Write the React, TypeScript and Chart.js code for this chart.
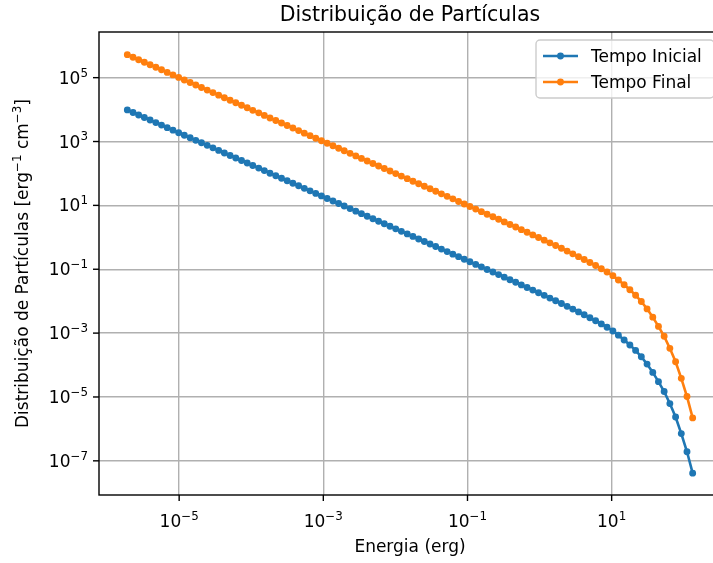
import React, { useEffect, useRef } from "react";
import { Chart, registerables } from "chart.js";

Chart.register(...registerables);

// Energy grid (erg)
const energies = [
  1.91e-6, 2.29e-6, 2.74e-6, 3.29e-6, 3.95e-6, 4.75e-6, 5.69e-6, 6.83e-6, 8.20e-6, 9.84e-6,
  1.18e-5, 1.42e-5, 1.70e-5, 2.04e-5, 2.45e-5, 2.94e-5, 3.53e-5, 4.24e-5, 5.09e-5, 6.10e-5,
  7.33e-5, 8.79e-5, 1.05e-4, 1.27e-4, 1.52e-4, 1.82e-4, 2.19e-4, 2.63e-4, 3.15e-4, 3.78e-4,
  4.54e-4, 5.45e-4, 6.54e-4, 7.85e-4, 9.42e-4, 1.13e-3, 1.36e-3, 1.63e-3, 1.95e-3, 2.35e-3,
  2.82e-3, 3.38e-3, 4.06e-3, 4.87e-3, 5.84e-3, 7.01e-3, 8.41e-3, 1.01e-2, 1.21e-2, 1.46e-2,
  1.75e-2, 2.10e-2, 2.52e-2, 3.02e-2, 3.62e-2, 4.35e-2, 5.22e-2, 6.26e-2, 7.52e-2, 9.02e-2,
  0.108, 0.130, 0.156, 0.187, 0.225, 0.270, 0.324, 0.388, 0.466, 0.559,
  0.671, 0.805, 0.967, 1.16, 1.39, 1.67, 2.01, 2.41, 2.89, 3.47,
  4.16, 4.99, 5.99, 7.19, 8.63, 10.4, 12.4, 14.9, 17.9, 21.5,
  25.8, 31.0, 37.2, 44.6, 53.5, 64.2, 77.1, 92.5, 111, 133,
];

// Particle distribution at the initial time [erg^-1 cm^-3]
const tempoInicial = [
  9.77e3, 8.14e3, 6.78e3, 5.65e3, 4.71e3, 3.92e3, 3.27e3, 2.72e3, 2.27e3, 1.89e3,
  1.58e3, 1.31e3, 1.09e3, 912, 760, 633, 527, 439, 366, 305,
  254, 212, 177, 147, 123, 102, 85.1, 70.9, 59.1, 49.2,
  41.0, 34.2, 28.5, 23.7, 19.8, 16.5, 13.7, 11.4, 9.52, 7.93,
  6.61, 5.51, 4.59, 3.82, 3.19, 2.66, 2.21, 1.84, 1.54, 1.28,
  1.07, 0.888, 0.741, 0.616, 0.514, 0.428, 0.357, 0.297, 0.248, 0.206,
  0.171, 0.142, 0.119, 0.0987, 0.0819, 0.0681, 0.0566, 0.0471, 0.0391, 0.0324,
  0.0268, 0.0222, 0.0184, 0.0152, 0.0125, 0.0103, 8.43e-3, 6.89e-3, 5.64e-3, 4.62e-3,
  3.76e-3, 3.03e-3, 2.44e-3, 1.94e-3, 1.53e-3, 1.17e-3, 8.62e-4, 6.11e-4, 4.25e-4, 2.87e-4,
  1.81e-4, 1.07e-4, 5.88e-5, 3.02e-5, 1.48e-5, 6.20e-6, 2.36e-6, 7.13e-7, 1.92e-7, 4.12e-8,
];

// Particle distribution at the final time [erg^-1 cm^-3]
const tempoFinal = [
  5.25e5, 4.37e5, 3.64e5, 3.04e5, 2.53e5, 2.11e5, 1.76e5, 1.46e5, 1.22e5, 1.02e5,
  8.47e4, 7.05e4, 5.88e4, 4.90e4, 4.08e4, 3.40e4, 2.83e4, 2.36e4, 1.97e4, 1.64e4,
  1.37e4, 1.14e4, 9.48e3, 7.90e3, 6.58e3, 5.48e3, 4.57e3, 3.81e3, 3.17e3, 2.64e3,
  2.20e3, 1.83e3, 1.53e3, 1.27e3, 1.06e3, 884, 737, 614, 512, 426,
  355, 296, 246, 205, 171, 143, 119, 99.0, 82.5, 68.7,
  57.3, 47.7, 39.8, 33.1, 27.6, 23.0, 19.2, 16.0, 13.3, 11.1,
  9.20, 7.64, 6.37, 5.30, 4.40, 3.66, 3.04, 2.53, 2.10, 1.74,
  1.44, 1.19, 0.988, 0.816, 0.672, 0.552, 0.453, 0.370, 0.303, 0.248,
  0.202, 0.163, 0.131, 0.104, 0.0820, 0.0630, 0.0463, 0.0328, 0.0228, 0.0154,
  9.74e-3, 5.74e-3, 3.16e-3, 1.62e-3, 7.97e-4, 3.33e-4, 1.27e-4, 3.83e-5, 1.03e-5, 2.21e-6,
];

const seriesLabels = ["Tempo Inicial", "Tempo Final"];
const seriesColors = ["#1f77b4", "#ff7f0e"];

// Decade exponents that carry ticks, grid lines and labels
const xTickExps = [-5, -3, -1, 1];
const yTickExps = [5, 3, 1, -1, -3, -5, -7];

const titleText = "Distribuição de Partículas";
const xLabelText = "Energia (erg)";
const yLabelParts = [
  { t: "Distribuição de Partículas [erg", sup: false },
  { t: "−1", sup: true },
  { t: " cm", sup: false },
  { t: "−3", sup: true },
  { t: "]", sup: false },
];

const FONT = '"DejaVu Sans", sans-serif';
const CANVAS_W = 740;
const CANVAS_H = 563;
const AREA = { left: 99, top: 32, right: 721, bottom: 495 };
const BASE = 17;

type Part = { t: string; sup: boolean };

function partsWidth(ctx: CanvasRenderingContext2D, parts: Part[], size: number) {
  let w = 0;
  for (const p of parts) {
    ctx.font = `${p.sup ? size * 0.7 : size}px ${FONT}`;
    w += ctx.measureText(p.t).width;
  }
  return w;
}

function drawParts(
  ctx: CanvasRenderingContext2D,
  parts: Part[],
  x: number,
  y: number,
  size: number,
  align: "left" | "center" | "right"
) {
  const w = partsWidth(ctx, parts, size);
  let cx = align === "left" ? x : align === "center" ? x - w / 2 : x - w;
  ctx.textAlign = "left";
  ctx.textBaseline = "alphabetic";
  for (const p of parts) {
    ctx.font = `${p.sup ? size * 0.7 : size}px ${FONT}`;
    ctx.fillText(p.t, cx, p.sup ? y - size * 0.42 : y);
    cx += ctx.measureText(p.t).width;
  }
}

function powerParts(exp: number): Part[] {
  const e = exp < 0 ? "−" + String(-exp) : String(exp);
  return [
    { t: "10", sup: false },
    { t: e, sup: true },
  ];
}

const decorPlugin = {
  id: "decor",
  afterDatasetsDraw(chart: any) {
    const ctx: CanvasRenderingContext2D = chart.ctx;
    const xs = chart.scales.x;
    const ys = chart.scales.y;
    const { left, top, right, bottom } = chart.chartArea;
    ctx.save();

    // spines
    ctx.strokeStyle = "#000";
    ctx.lineWidth = 1.4;
    ctx.strokeRect(left, top, right - left, bottom - top);

    // tick marks and labels
    ctx.fillStyle = "#000";
    for (const e of xTickExps) {
      const px = xs.getPixelForValue(Math.pow(10, e));
      ctx.beginPath();
      ctx.moveTo(px, bottom);
      ctx.lineTo(px, bottom + 6);
      ctx.stroke();
      drawParts(ctx, powerParts(e), px, bottom + 32, BASE, "center");
    }
    for (const e of yTickExps) {
      const py = ys.getPixelForValue(Math.pow(10, e));
      ctx.beginPath();
      ctx.moveTo(left, py);
      ctx.lineTo(left - 6, py);
      ctx.stroke();
      drawParts(ctx, powerParts(e), left - 11, py + 6, BASE, "right");
    }

    // axis labels
    drawParts(ctx, [{ t: xLabelText, sup: false }], (left + right) / 2, 552, BASE, "center");
    ctx.save();
    ctx.translate(22, (top + bottom) / 2);
    ctx.rotate(-Math.PI / 2);
    drawParts(ctx, yLabelParts, 0, 6, BASE, "center");
    ctx.restore();

    // title
    drawParts(ctx, [{ t: titleText, sup: false }], (left + right) / 2, 21, 20.5, "center");

    // legend
    const lx = 536;
    const ly = 40;
    const lw = 178;
    const lh = 58;
    ctx.beginPath();
    ctx.roundRect(lx, ly, lw, lh, 4);
    ctx.fillStyle = "rgba(255,255,255,0.8)";
    ctx.fill();
    ctx.strokeStyle = "#cccccc";
    ctx.lineWidth = 1.4;
    ctx.stroke();
    seriesLabels.forEach((label, i) => {
      const cy = 56 + i * 26;
      ctx.strokeStyle = seriesColors[i];
      ctx.lineWidth = 2.6;
      ctx.beginPath();
      ctx.moveTo(543, cy);
      ctx.lineTo(578, cy);
      ctx.stroke();
      ctx.beginPath();
      ctx.arc(560.5, cy, 2.6, 0, Math.PI * 2);
      ctx.fillStyle = seriesColors[i];
      ctx.fill();
      ctx.lineWidth = 1.7;
      ctx.stroke();
      ctx.fillStyle = "#000";
      drawParts(ctx, [{ t: label, sup: false }], 591, cy + 6, BASE, "left");
    });

    ctx.restore();
  },
};

export default function App() {
  const canvasRef = useRef<HTMLCanvasElement | null>(null);

  useEffect(() => {
    const canvas = canvasRef.current;
    if (!canvas) return;
    const series = [tempoInicial, tempoFinal];
    const chart = new Chart(canvas, {
      type: "line",
      data: {
        datasets: series.map((vals, i) => ({
          label: seriesLabels[i],
          data: energies.map((e, k) => ({ x: e, y: vals[k] })),
          borderColor: seriesColors[i],
          backgroundColor: seriesColors[i],
          borderWidth: 2.6,
          pointRadius: 2.6,
          pointBorderWidth: 1.7,
          pointHoverRadius: 2.6,
          tension: 0,
          fill: false,
        })),
      },
      options: {
        responsive: false,
        animation: false,
        devicePixelRatio: 1,
        layout: {
          padding: { left: 0, top: AREA.top, right: CANVAS_W - AREA.right, bottom: 0 },
        },
        plugins: {
          legend: { display: false },
          title: { display: false },
          tooltip: { enabled: false },
        },
        scales: {
          x: {
            type: "logarithmic",
            min: Math.pow(10, -6.112),
            max: Math.pow(10, 2.517),
            afterBuildTicks: (scale: any) => {
              scale.ticks = xTickExps.map((e) => ({ value: Math.pow(10, e) }));
            },
            afterFit: (scale: any) => {
              scale.height = CANVAS_H - AREA.bottom;
            },
            ticks: { display: false },
            border: { display: false },
            grid: { color: "#b0b0b0", lineWidth: 1.4, drawTicks: false },
          },
          y: {
            type: "logarithmic",
            min: Math.pow(10, -8.07),
            max: Math.pow(10, 6.43),
            afterBuildTicks: (scale: any) => {
              scale.ticks = yTickExps.map((e) => ({ value: Math.pow(10, e) }));
            },
            afterFit: (scale: any) => {
              scale.width = AREA.left;
            },
            ticks: { display: false },
            border: { display: false },
            grid: { color: "#b0b0b0", lineWidth: 1.4, drawTicks: false },
          },
        },
      },
      plugins: [decorPlugin],
    });
    return () => chart.destroy();
  }, []);

  return (
    <div
      style={{
        position: "fixed",
        left: 0,
        top: 0,
        width: 713,
        height: 563,
        overflow: "hidden",
        background: "#fff",
      }}
    >
      <canvas
        ref={canvasRef}
        width={CANVAS_W}
        height={CANVAS_H}
        style={{ width: CANVAS_W, height: CANVAS_H, display: "block" }}
      />
    </div>
  );
}
